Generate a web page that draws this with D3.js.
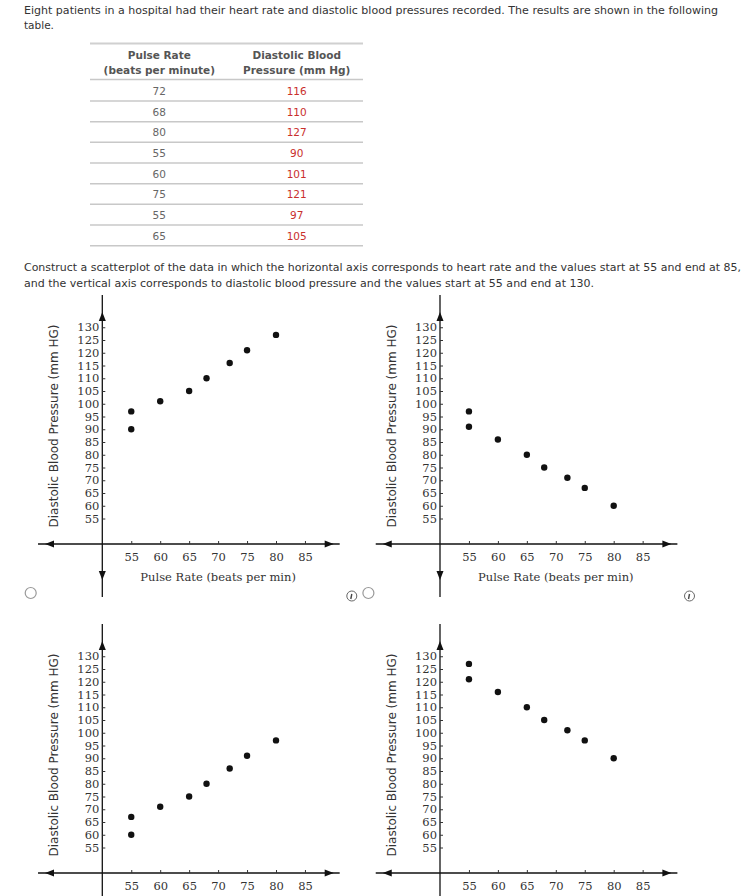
<!DOCTYPE html>
<html>
<head>
<meta charset="utf-8">
<script src="https://cdn.jsdelivr.net/npm/d3@7"></script>
<style>
body { margin: 0; background: #fff; }
</style>
</head>
<body>
<div class="page"></div>
<script>
let width = 748, height = 896;

// data from the table
let pulseRate = [72, 68, 80, 55, 60, 75, 55, 65];
let diastolic = [116, 110, 127, 90, 101, 121, 97, 105];

// the four answer choices
let optionA_x = pulseRate;
let optionA_y = diastolic;
let optionB_x = [55, 55, 60, 65, 68, 72, 75, 80];
let optionB_y = [97, 91, 86, 80, 75, 71, 67, 60];
let optionC_x = [55, 55, 60, 65, 68, 72, 75, 80];
let optionC_y = [67, 60, 71, 75, 80, 86, 91, 97];
let optionD_x = [55, 55, 60, 65, 68, 72, 75, 80];
let optionD_y = [127, 121, 116, 110, 105, 101, 97, 90];

let xTicks = [55, 60, 65, 70, 75, 80, 85];
let yTicks = [55, 60, 65, 70, 75, 80, 85, 90, 95, 100, 105, 110, 115, 120, 125, 130];

let headerLines = [["Pulse Rate", "(beats per minute)"], ["Diastolic Blood", "Pressure (mm Hg)"]];
let introLines = ["Eight patients in a hospital had their heart rate and diastolic blood pressures recorded. The results are shown in the following", "table."];
let questionLines = ["Construct a scatterplot of the data in which the horizontal axis corresponds to heart rate and the values start at 55 and end at 85,", "and the vertical axis corresponds to diastolic blood pressure and the values start at 55 and end at 130."];

let sans = "'DejaVu Sans', Verdana, sans-serif";
let serif = "'DejaVu Serif', serif";

let svg = d3.select(".page").append("svg")
    .attr("width", width)
    .attr("height", height)
    .style("display", "block");

svg.append("rect").attr("width", width).attr("height", height).attr("fill", "#fff");

// intro paragraph
svg.selectAll(".intro").data(introLines).enter().append("text")
    .attr("x", 24)
    .attr("y", (d, i) => 13.5 + i * 15.5)
    .attr("font-family", sans)
    .attr("font-size", 10.5)
    .attr("fill", "#333")
    .attr("textLength", (d, i) => i == 0 ? 694 : null)
    .attr("lengthAdjust", "spacingAndGlyphs")
    .text(d => d);

// table
let colX = [159.3, 296.7];
let rowH = 20.67;
let table = svg.append("g");

table.append("line").attr("x1", 90).attr("x2", 363).attr("y1", 43.5).attr("y2", 43.5)
    .attr("stroke", "#d0d0d0").attr("stroke-width", 2);

headerLines.forEach((lines, c) => {
    lines.forEach((t, k) => {
        table.append("text")
            .attr("x", colX[c])
            .attr("y", 59 + k * 14.5)
            .attr("text-anchor", "middle")
            .attr("font-family", sans)
            .attr("font-weight", "bold")
            .attr("font-size", 10.5)
            .attr("fill", "#555")
            .text(t);
    });
});

table.append("line").attr("x1", 90).attr("x2", 363).attr("y1", 79.5).attr("y2", 79.5)
    .attr("stroke", "#c8c8c8").attr("stroke-width", 1.5);

pulseRate.forEach((p, i) => {
    let yRow = 91 + i * rowH;
    table.append("text")
        .attr("x", colX[0]).attr("y", yRow + 4)
        .attr("text-anchor", "middle")
        .attr("font-family", sans).attr("font-size", 10.5)
        .attr("fill", "#666")
        .text(p);
    table.append("text")
        .attr("x", colX[1]).attr("y", yRow + 4)
        .attr("text-anchor", "middle")
        .attr("font-family", sans).attr("font-size", 10.5)
        .attr("fill", "#c9302c")
        .text(diastolic[i]);
    table.append("line")
        .attr("x1", 90).attr("x2", 363)
        .attr("y1", yRow + 10).attr("y2", yRow + 10)
        .attr("stroke", "#c8c8c8").attr("stroke-width", 1.5);
});

// question
svg.selectAll(".question").data(questionLines).enter().append("text")
    .attr("x", 24)
    .attr("y", (d, i) => 271 + i * 15.5)
    .attr("font-family", sans)
    .attr("font-size", 10.5)
    .attr("fill", "#333")
    .attr("textLength", (d, i) => i == 0 ? 717 : 570)
    .attr("lengthAdjust", "spacingAndGlyphs")
    .text(d => d);

function arrow(g, tx, ty, dir) {
    // dir: 0 right, 90 down, 180 left, 270 up
    g.append("path")
        .attr("d", "M0,0 L-9,-3.5 L-9,3.5 Z")
        .attr("transform", `translate(${tx},${ty}) rotate(${dir})`)
        .attr("fill", "#111");
}

function drawChart(cx, cy, xs, ys, showTitle) {
    // cx, cy = where the axes cross
    let g = svg.append("g").attr("transform", `translate(${cx},${cy})`);

    let x = d3.scaleLinear().domain([50, 85]).range([0, 35 * 5.79]);
    let y = d3.scaleLinear().domain([45, 130]).range([0, -85 * 2.55]);

    // axis lines
    g.append("line").attr("x1", x(38.9)).attr("x2", x(91)).attr("y1", 0).attr("y2", 0)
        .attr("stroke", "#111").attr("stroke-width", 1.3);
    g.append("line").attr("x1", 0).attr("x2", 0).attr("y1", y(142.6)).attr("y2", y(24.2))
        .attr("stroke", "#111").attr("stroke-width", 1.3);

    arrow(g, x(38.9) + 7, 0, 180);
    arrow(g, x(91) - 6, 0, 0);
    arrow(g, 0, y(142.6) + 17, 270);
    arrow(g, 0, y(24.2) - 17, 90);

    let xAxis = g.append("g")
        .call(d3.axisBottom(x).tickValues(xTicks).tickSize(-3).tickPadding(9));
    let yAxis = g.append("g")
        .call(d3.axisLeft(y).tickValues(yTicks).tickSize(-3).tickPadding(3));

    [xAxis, yAxis].forEach(a => {
        a.select(".domain").remove();
        a.selectAll(".tick line").attr("stroke", "#333");
        a.selectAll("text")
            .attr("font-family", serif)
            .attr("font-size", 11.5)
            .attr("fill", "#333");
    });

    // bottom row titles fall below the page in the screenshot
    if (showTitle) {
        g.append("text")
            .attr("x", x(70)).attr("y", 37)
            .attr("text-anchor", "middle")
            .attr("font-family", serif).attr("font-size", 11.5)
            .attr("fill", "#333")
            .text("Pulse Rate (beats per min)");
    }

    g.append("text")
        .attr("transform", `translate(-44,-118) rotate(-90)`)
        .attr("text-anchor", "middle")
        .attr("font-family", sans).attr("font-size", 12)
        .attr("fill", "#333")
        .text("Diastolic Blood Pressure (mm HG)");

    g.selectAll(".dot").data(xs).enter().append("circle")
        .attr("cx", d => x(d))
        .attr("cy", (d, i) => y(ys[i]))
        .attr("r", 3.2)
        .attr("fill", "#111");

    // radio button
    g.append("circle").attr("cx", -71.6).attr("cy", 49).attr("r", 5.5)
        .attr("fill", "#fff").attr("stroke", "#999").attr("stroke-width", 1.2);

    let info = g.append("g").attr("transform", "translate(249.5,52)");
    info.append("circle").attr("r", 5).attr("fill", "#fff")
        .attr("stroke", "#666").attr("stroke-width", 1);
    info.append("line").attr("x1", 0).attr("y1", -2).attr("x2", -1).attr("y2", 3)
        .attr("stroke", "#444").attr("stroke-width", 1.4);
}

drawChart(102.3, 544, optionA_x, optionA_y, true);
drawChart(440, 544, optionB_x, optionB_y, true);
drawChart(102.3, 873, optionC_x, optionC_y, false);
drawChart(440, 873, optionD_x, optionD_y, false);
</script>
</body>
</html>
